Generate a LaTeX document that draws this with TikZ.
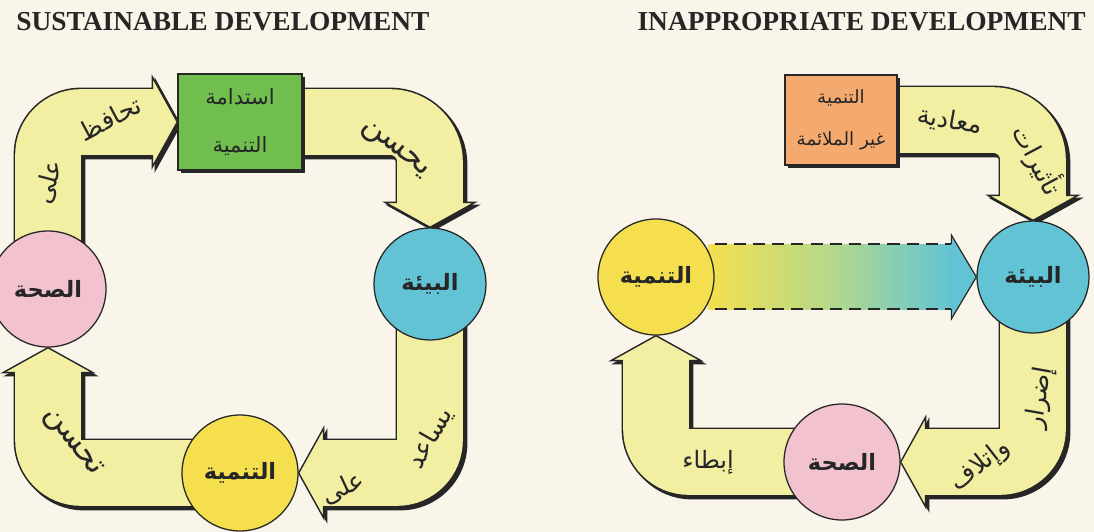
\documentclass[tikz,border=0pt]{standalone}
\usepackage{fontspec}
\usetikzlibrary{calc,shadows}

\TeXXeTstate=1
\newfontfamily\arabicfont[Script=Arabic]{DejaVu Sans}
\newfontfamily\titlefont{Liberation Serif}
\newcommand{\ar}[1]{{\arabicfont\beginR #1\endR}}

\definecolor{paper}{HTML}{FAF5EA}
\definecolor{band}{HTML}{F2EEA2}
\definecolor{edge}{HTML}{262626}
\definecolor{leaf}{HTML}{70BE4E}
\definecolor{peach}{HTML}{F4A96E}
\definecolor{rose}{HTML}{F2C3CE}
\definecolor{sky}{HTML}{62C3D5}
\definecolor{sun}{HTML}{F5DF4E}
\definecolor{lime}{HTML}{B3D98C}

\pgfdeclarelayer{bg}
\pgfdeclarelayer{mid}
\pgfsetlayers{bg,mid,main}

\tikzset{
  ball/.style={circle, draw=edge, line width=0.9pt, minimum size=2.9cm, inner sep=0pt,
    text=edge, font=\bfseries\fontsize{16}{18}\selectfont},
  board/.style={rectangle, draw=edge, line width=0.9pt, inner sep=0pt, align=center,
    text=edge, font=\fontsize{15}{34}\selectfont,
    drop shadow={shadow xshift=0.08cm, shadow yshift=-0.08cm, opacity=1, fill=edge}},
  heading/.style={font=\titlefont\bfseries\fontsize{19.5}{22}\selectfont, text=black!85, inner sep=0pt},
  tag/.style={font=\fontsize{18}{20}\selectfont, text=edge, inner sep=0pt},
  bigtag/.style={tag, font=\fontsize{22}{24}\selectfont},
  bandedge/.style={draw=edge, line width=1.72cm},
  bandbody/.style={draw=band, line width=1.64cm},
  headbody/.style={fill=band, draw=edge, line width=0.035cm},
}

% fat bent arrow: [corner]{centre line}{tip}{angle}
\newcommand{\fatarrow}[4][0.82cm]{%
  \begin{scope}[transform canvas={xshift=0.075cm, yshift=-0.075cm}]
    \draw[bandedge, rounded corners=#1] #2;
    \filldraw[edge, line width=0.035cm, shift={#3}, rotate=#4] (0,0) -- (-25,-45) -- (-25,45) -- cycle;
  \end{scope}
  \draw[bandedge, rounded corners=#1] #2;
  \filldraw[headbody, shift={#3}, rotate=#4] (0,0) -- (-25,-45) -- (-25,45) -- cycle;
  \draw[bandbody, rounded corners=#1] #2;
}

\begin{document}
\begin{tikzpicture}[x=0.025cm, y=-0.025cm]

\useasboundingbox (0,0) rectangle (1094,532);
\begin{pgfonlayer}{bg}
\fill[paper] (0,0) rectangle (1094,532);
\end{pgfonlayer}

\node[heading, anchor=west] (titleL) at (16,22) {SUSTAINABLE DEVELOPMENT};
\node[heading, anchor=east] (titleR) at (1086,22) {INAPPROPRIATE DEVELOPMENT};

% sustainable cycle
\node[ball, fill=rose] (healthL) at (48,289) {\ar{الصحة}};
\node[board, fill=leaf, minimum width=3.1cm, minimum height=2.4cm] (sustL) at (240,122) {\ar{استدامة}\\\ar{التنمية}};
\node[ball, fill=sky, minimum size=2.8cm] (envL) at (430,284) {\ar{البيئة}};
\node[ball, fill=sun] (devL) at (240,473) {\ar{التنمية}};

% inappropriate cycle
\node[ball, fill=sun] (devR) at (656,277) {\ar{التنمية}};
\node[ball, fill=sky, minimum size=2.8cm] (envR) at (1033,277) {\ar{البيئة}};
\node[ball, fill=rose] (healthR) at (842,462) {\ar{الصحة}};
\node[board, fill=peach, minimum width=2.8cm, minimum height=2.25cm, font=\fontsize{13}{30}\selectfont] (badR) at (841,120) {\ar{التنمية}\\\ar{غير الملائمة}};

\begin{pgfonlayer}{mid}
\fatarrow{(healthL.center) |- ($(sustL.west)+(-22,0)$)}{(sustL.west)}{0}
\fatarrow[1cm]{(sustL.center) -| ($(envL.north)+(0,-22)$)}{(envL.north)}{-90}
\fatarrow{(envL.center) |- ($(devL.east)+(22,0)$)}{(devL.east)}{180}
\fatarrow{(devL.center) -| ($(healthL.south)+(0,22)$)}{(healthL.south)}{90}

\fatarrow[1cm]{(badR.center) -| ($(envR.north)+(0,-22)$)}{(envR.north)}{-90}
\fatarrow{(envR.center) |- ($(healthR.east)+(22,0)$)}{(healthR.east)}{180}
\fatarrow{(healthR.center) -| ($(devR.south)+(0,22)$)}{(devR.south)}{90}

% fading arrow
\shade[left color=sun, right color=sky, middle color=lime] ($(devR.east)+(-6,-33)$) rectangle ($(envR.west)+(-22,32)$);
\filldraw[fill=sky, draw=edge, line width=0.03cm] ($(envR.west)+(-25,-33)$) -- ($(envR.west)+(-25,-42)$) -- (envR.west) -- ($(envR.west)+(-25,42)$) -- ($(envR.west)+(-25,32)$);
\draw[edge, line width=0.05cm, dash pattern=on 0.3cm off 0.18cm] ($(devR.east)+(0,-33)$) -- ($(envR.west)+(-25,-33)$);
\draw[edge, line width=0.05cm, dash pattern=on 0.3cm off 0.18cm] ($(devR.east)+(0,32)$) -- ($(envR.west)+(-25,32)$);
\end{pgfonlayer}

% arrow words
\node[tag, rotate=28] (keepA) at (110,118) {\ar{تحافظ}};
\node[tag, rotate=75] (keepB) at (49,182) {\ar{على}};
\node[bigtag, rotate=-38] (improveL) at (394,150) {\ar{يحسن}};
\node[tag, rotate=60] (helpA) at (430,438) {\ar{يساعد}};
\node[tag, rotate=25] (helpB) at (343,488) {\ar{على}};
\node[bigtag, rotate=-52] (improveB) at (72,443) {\ar{تحسن}};

\node[tag, rotate=-62] (effectA) at (1038,160) {\ar{تأثيرات}};
\node[tag, rotate=-10] (effectB) at (950,121) {\ar{معادية}};
\node[tag, rotate=80] (harmA) at (1040,398) {\ar{إضرار}};
\node[tag, rotate=38] (harmB) at (980,466) {\ar{وإتلاف}};
\node[tag, font=\fontsize{17}{19}\selectfont] (slow) at (708,462) {\ar{إبطاء}};

\end{tikzpicture}
\end{document}
